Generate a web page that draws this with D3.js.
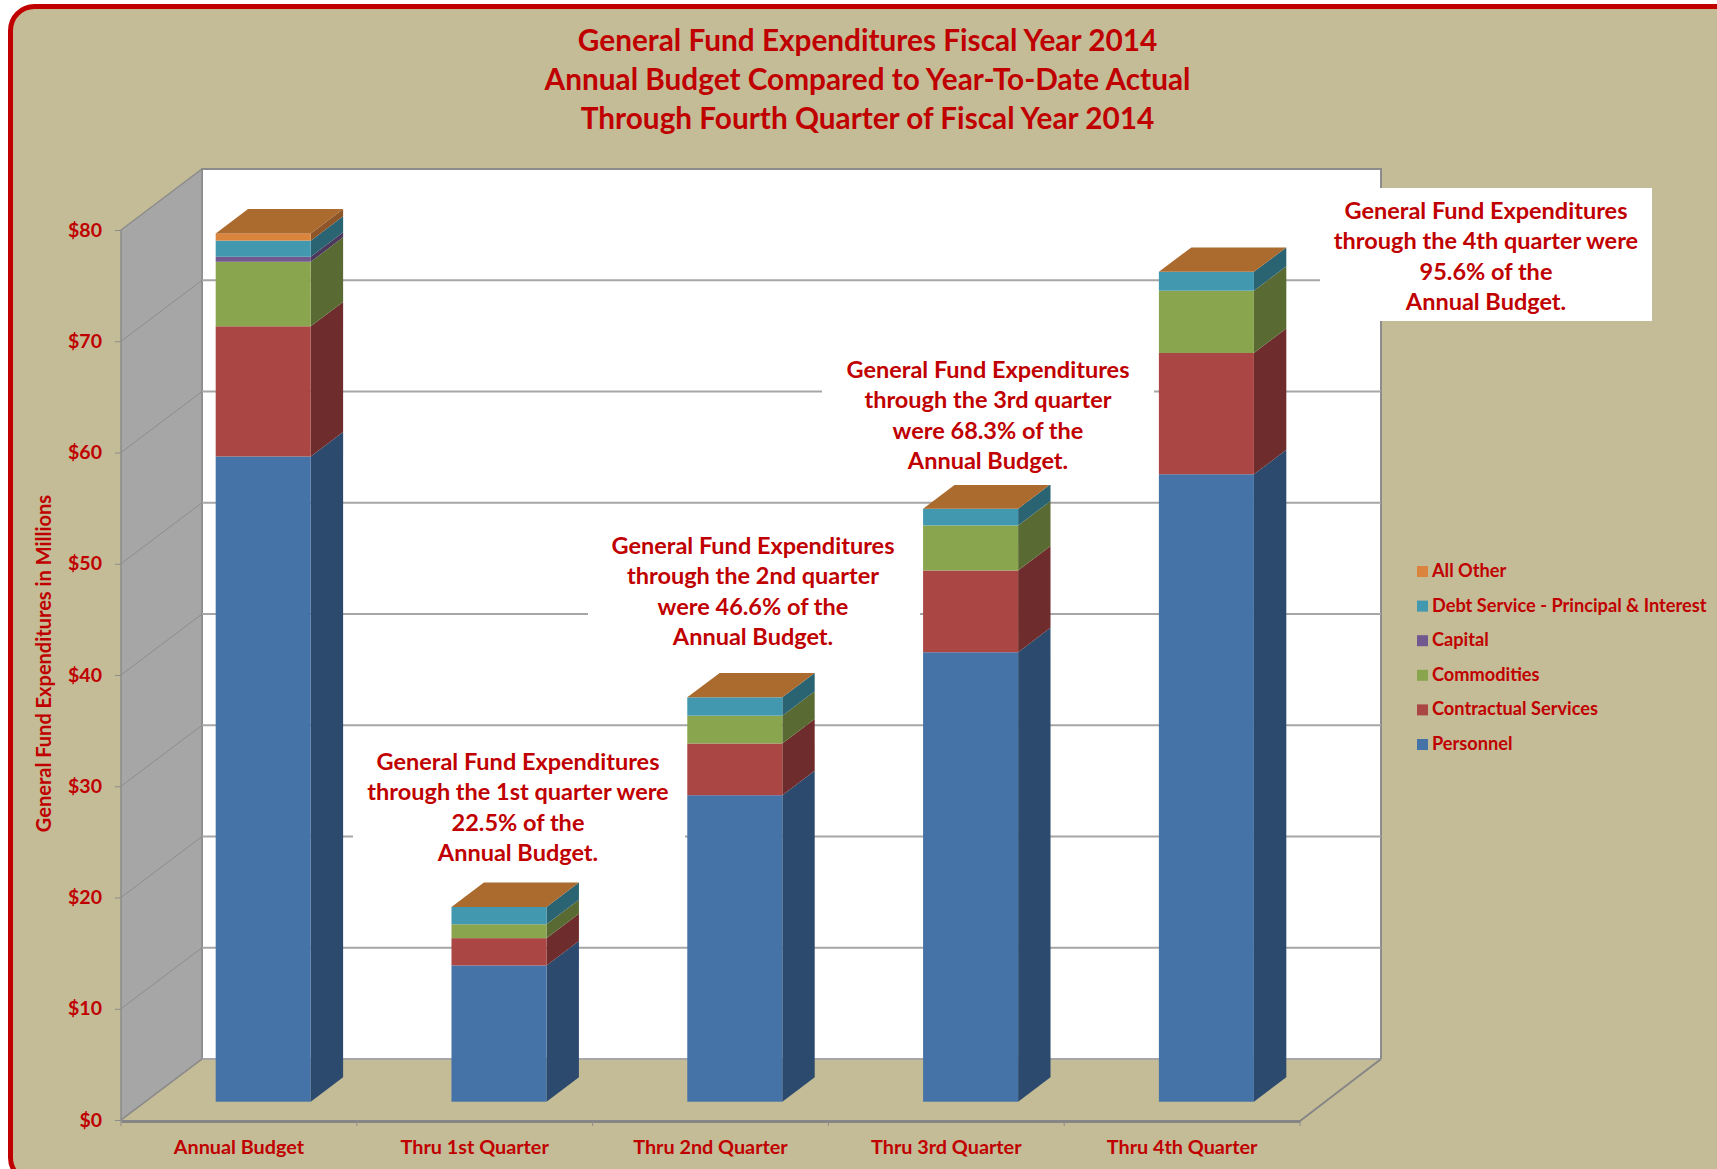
<!DOCTYPE html>
<html>
<head>
<meta charset="utf-8">
<title>General Fund Expenditures FY2014</title>
<script src="https://cdn.jsdelivr.net/npm/d3@7"></script>
<style>
  html, body { margin: 0; padding: 0; background: #fff; overflow: hidden; }
  svg { display: block; }
  text { font-family: Lato, sans-serif; font-weight: 700; fill: #c00000; }
</style>
</head>
<body>
<div id="chart"></div>
<script>
// Data ($ millions)
const categories = ['Annual Budget', 'Thru 1st Quarter', 'Thru 2nd Quarter', 'Thru 3rd Quarter', 'Thru 4th Quarter'];
const personnel = [58.0, 12.25, 27.55, 40.4, 56.4];
const contractual = [11.7, 2.45, 4.65, 7.35, 10.9];
const commodities = [5.8, 1.25, 2.5, 4.05, 5.6];
const capital = [0.45, 0, 0, 0, 0];
const debtService = [1.45, 1.55, 1.65, 1.5, 1.7];
const allOther = [0.65, 0, 0, 0, 0];

const seriesNames = ['Personnel', 'Contractual Services', 'Commodities', 'Capital', 'Debt Service - Principal & Interest', 'All Other'];
const seriesValues = [personnel, contractual, commodities, capital, debtService, allOther];
const frontColors = ['#4572a7', '#aa4643', '#89a54e', '#71588f', '#4198af', '#db843d'];
const sideColors = ['#2c4a6e', '#6e2d2c', '#596b33', '#4a395d', '#2a6372', '#8e5628'];
const topColor = '#ab6a2e';

const yTicks = [0, 10, 20, 30, 40, 50, 60, 70, 80];
const titleLines = [
    'General Fund Expenditures Fiscal Year 2014',
    'Annual Budget Compared to Year-To-Date Actual',
    'Through Fourth Quarter of Fiscal Year 2014',
];
const notes = [
    { lines: ['General Fund Expenditures', 'through the 1st quarter were', '22.5% of the', 'Annual Budget.'], box: [353, 731, 332, 146], cx: 518, y: 770 },
    { lines: ['General Fund Expenditures', 'through the 2nd quarter', 'were 46.6% of the', 'Annual Budget.'], box: [588, 518, 332, 146], cx: 753, y: 554 },
    { lines: ['General Fund Expenditures', 'through the 3rd quarter', 'were 68.3% of the', 'Annual Budget.'], box: [822, 345, 332, 140], cx: 988, y: 378 },
    { lines: ['General Fund Expenditures', 'through the 4th quarter were', '95.6% of the', 'Annual Budget.'], box: [1320, 188, 332, 133], cx: 1486, y: 219 },
];

// Dimensions
const width = 1717;
const height = 1169;
const floorLeft = 121;
const floorRight = 1300;
const floorY = 1120;
const topY = 230;
const depthX = 81;     // how far the back wall sits from the front plane
const depthY = 61;
const barFront = 0.3;  // bars run from here to barBack along the depth
const barBack = 0.7;

const svg = d3.select('#chart').append('svg')
    .attr('width', width)
    .attr('height', height);

// Frame, it runs off the right and bottom of the page
svg.append('rect')
    .attr('x', 10.5).attr('y', 6.5)
    .attr('width', 1735).attr('height', 1175)
    .attr('rx', 24)
    .attr('fill', '#c4bc96')
    .attr('stroke', '#c00000')
    .attr('stroke-width', 5);

// Scales
const xScale = d3.scaleBand()
    .domain(categories)
    .range([floorLeft, floorRight])
    .paddingInner(0.597)
    .paddingOuter(0.2985);
const step = xScale.step();

const yScale = d3.scaleLinear()
    .domain([0, 80])
    .range([floorY, topY]);

// Project a point of the front plane back along the depth
const px = (x, depth) => x + depth * depthX;
const py = (v, depth) => yScale(v) - depth * depthY;
const poly = pts => pts.map(p => p.join(',')).join(' ');

// Back wall
const gWalls = svg.append('g').attr('class', 'walls');
gWalls.append('rect')
    .attr('x', px(floorLeft, 1))
    .attr('y', py(80, 1))
    .attr('width', floorRight - floorLeft)
    .attr('height', py(0, 1) - py(80, 1))
    .attr('fill', '#fff');
gWalls.append('path')
    .attr('d', `M${px(floorLeft, 1)},${py(0, 1)}V${py(80, 1)}H${px(floorRight, 1)}V${py(0, 1)}`)
    .attr('fill', 'none')
    .attr('stroke', '#8c8c8c')
    .attr('stroke-width', 2);

// Side wall
gWalls.append('polygon')
    .attr('points', poly([
        [px(floorLeft, 0), py(0, 0)], [px(floorLeft, 1), py(0, 1)],
        [px(floorLeft, 1), py(80, 1)], [px(floorLeft, 0), py(80, 0)],
    ]))
    .attr('fill', '#a6a6a6')
    .attr('stroke', '#8c8c8c')
    .attr('stroke-width', 1.5);

// Gridlines across both walls
const gGrid = svg.append('g').attr('class', 'grid');
gGrid.selectAll('line.back')
    .data(yTicks.slice(0, -1))
    .join('line')
    .attr('class', 'back')
    .attr('x1', px(floorLeft, 1)).attr('x2', px(floorRight, 1))
    .attr('y1', d => py(d, 1)).attr('y2', d => py(d, 1))
    .attr('stroke', '#a6a6a6')
    .attr('stroke-width', 2);
gGrid.selectAll('line.side')
    .data(yTicks.slice(1, -1))
    .join('line')
    .attr('class', 'side')
    .attr('x1', px(floorLeft, 0)).attr('x2', px(floorLeft, 1))
    .attr('y1', d => py(d, 0)).attr('y2', d => py(d, 1))
    .attr('stroke', '#8c8c8c')
    .attr('stroke-width', 1);

// Floor edges
const gFloor = svg.append('g').attr('class', 'floor');
gFloor.append('line')
    .attr('x1', px(floorRight, 0)).attr('y1', py(0, 0) + 1)
    .attr('x2', px(floorRight, 1)).attr('y2', py(0, 1))
    .attr('stroke', '#868686')
    .attr('stroke-width', 2);
gFloor.append('line')
    .attr('x1', px(floorLeft, 0)).attr('y1', py(0, 0))
    .attr('x2', px(floorLeft, 1)).attr('y2', py(0, 1))
    .attr('stroke', '#8c8c8c')
    .attr('stroke-width', 1.5);

// Stack the series
const rows = categories.map((c, i) => {
    const row = { category: c };
    seriesNames.forEach((s, j) => { row[s] = seriesValues[j][i]; });
    return row;
});
const stacked = d3.stack().keys(seriesNames)(rows);

// Bars: one group per series, side face then front face, top goes on last
const gBars = svg.append('g').attr('class', 'bars');
const seriesG = gBars.selectAll('g')
    .data(stacked)
    .join('g')
    .attr('class', d => 'series-' + d.index);

seriesG.selectAll('polygon.side')
    .data(d => d.filter(s => s[1] > s[0]).map(s => ({ s, i: d.index })))
    .join('polygon')
    .attr('class', 'side')
    .attr('fill', d => sideColors[d.i])
    .attr('points', d => {
        const right = xScale(d.s.data.category) + xScale.bandwidth();
        return poly([
            [px(right, barFront), py(d.s[0], barFront)], [px(right, barBack), py(d.s[0], barBack)],
            [px(right, barBack), py(d.s[1], barBack)], [px(right, barFront), py(d.s[1], barFront)],
        ]);
    });

seriesG.selectAll('rect.front')
    .data(d => d.filter(s => s[1] > s[0]).map(s => ({ s, i: d.index })))
    .join('rect')
    .attr('class', 'front')
    .attr('fill', d => frontColors[d.i])
    .attr('x', d => px(xScale(d.s.data.category), barFront))
    .attr('y', d => py(d.s[1], barFront))
    .attr('width', xScale.bandwidth())
    .attr('height', d => py(d.s[0], barFront) - py(d.s[1], barFront));

gBars.selectAll('polygon.top')
    .data(rows)
    .join('polygon')
    .attr('class', 'top')
    .attr('fill', topColor)
    .attr('points', (d, i) => {
        const left = xScale(d.category);
        const right = left + xScale.bandwidth();
        const total = d3.sum(seriesValues, s => s[i]);
        return poly([
            [px(left, barFront), py(total, barFront)], [px(right, barFront), py(total, barFront)],
            [px(right, barBack), py(total, barBack)], [px(left, barBack), py(total, barBack)],
        ]);
    });

// White note boxes hide the gridlines behind them
const gNotes = svg.append('g').attr('class', 'notes');
const noteG = gNotes.selectAll('g').data(notes).join('g');
noteG.append('rect')
    .attr('x', d => d.box[0])
    .attr('y', d => d.box[1])
    .attr('width', d => d.box[2])
    .attr('height', d => d.box[3])
    .attr('fill', '#fff');
noteG.selectAll('text')
    .data(d => d.lines.map((line, i) => ({ line, x: d.cx, y: d.y + i * 30.4 })))
    .join('text')
    .attr('x', d => d.x)
    .attr('y', d => d.y)
    .attr('text-anchor', 'middle')
    .attr('font-size', 23.5)
    .text(d => d.line);

// Axes
const gYAxis = svg.append('g')
    .attr('transform', `translate(${floorLeft}, 0)`)
    .call(d3.axisLeft(yScale).tickValues(yTicks).tickSize(6).tickPadding(13).tickFormat(d => '$' + d));
gYAxis.select('.domain').remove();
gYAxis.selectAll('line').attr('stroke', '#8c8c8c');
gYAxis.selectAll('text')
    .attr('font-size', 19.5)
    .attr('dy', null)
    .attr('y', 6);

const gXAxis = svg.append('g')
    .attr('transform', `translate(0, ${floorY})`)
    .call(d3.axisBottom(xScale).tickSize(0).tickPadding(20));
gXAxis.select('.domain')
    .attr('stroke', '#868686')
    .attr('stroke-width', 3)
    .attr('transform', 'translate(0, 1)');
gXAxis.selectAll('text')
    .attr('font-size', 19.8)
    .attr('dy', null)
    .attr('y', 34);

// Separators between categories on the x axis
gXAxis.selectAll('line.sep')
    .data(d3.range(categories.length + 1))
    .join('line')
    .attr('class', 'sep')
    .attr('x1', d => floorLeft + d * step).attr('x2', d => floorLeft + d * step)
    .attr('y1', 1).attr('y2', 6)
    .attr('stroke', '#8c8c8c');

// Axis title
svg.append('text')
    .attr('transform', 'translate(51, 663.5) rotate(-90)')
    .attr('text-anchor', 'middle')
    .attr('font-size', 20)
    .text('General Fund Expenditures in Millions');

// Chart title
svg.append('g').selectAll('text')
    .data(titleLines)
    .join('text')
    .attr('x', 867.5)
    .attr('y', (d, i) => 51 + i * 39)
    .attr('text-anchor', 'middle')
    .attr('font-size', 29.75)
    .text(d => d);

// Legend, top to bottom is the reverse of the stack
const legend = svg.append('g')
    .attr('transform', 'translate(1417, 566)')
    .selectAll('g')
    .data(seriesNames.map((name, i) => ({ name, color: frontColors[i] })).reverse())
    .join('g')
    .attr('transform', (d, i) => `translate(0, ${i * 34.6})`);
legend.append('rect')
    .attr('width', 11).attr('height', 11)
    .attr('fill', d => d.color);
legend.append('text')
    .attr('x', 15).attr('y', 11)
    .attr('font-size', 18.2)
    .text(d => d.name);
</script>
</body>
</html>
